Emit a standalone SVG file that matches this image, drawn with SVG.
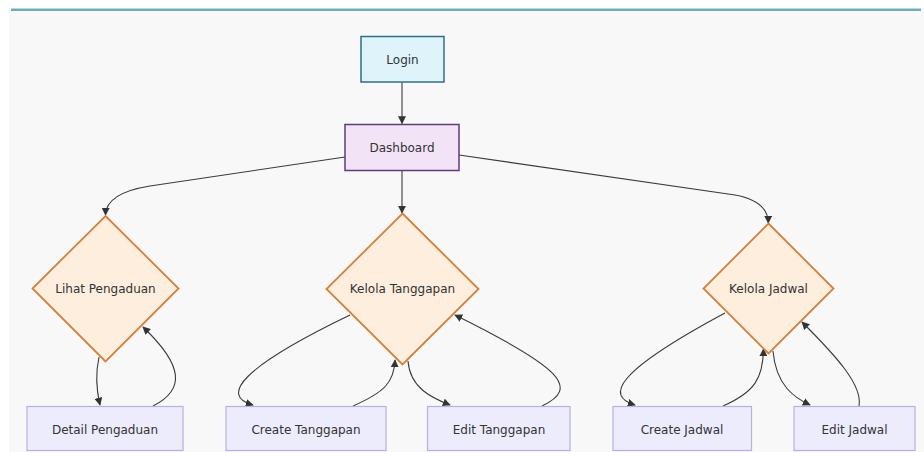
<svg xmlns="http://www.w3.org/2000/svg" width="924" height="452" viewBox="0 0 924 452">
  <defs>
    <marker id="arrow" viewBox="0 0 10 10" refX="9" refY="5" markerWidth="8" markerHeight="8" markerUnits="userSpaceOnUse" orient="auto">
      <path d="M0,0 L10,5 L0,10 z" fill="#333"/>
    </marker>
    <style>
      .label { font-family: "DejaVu Sans", Verdana, sans-serif; font-size: 12px; fill: #333; text-anchor: middle; dominant-baseline: central; }
      .start { fill: #dff3fb; stroke: #2f6f8c; stroke-width: 1.5; }
      .hub { fill: #f2e4f6; stroke: #5e3b80; stroke-width: 1.5; }
      .decision { fill: #fdeedd; stroke: #d5813a; stroke-width: 1.8; }
      .action { fill: #ececfd; stroke: #b8b0e0; stroke-width: 1.2; }
      .edge { fill: none; stroke: #3a3a3a; stroke-width: 1.1; marker-end: url(#arrow); }
    </style>
  </defs>

  <!-- canvas -->
  <rect x="0" y="0" width="924" height="452" fill="#ffffff"/>
  <rect x="9" y="8" width="915" height="444" fill="#f8f8f8"/>
  <line x1="11" y1="8.5" x2="921" y2="8.5" stroke="#9fe3ee" stroke-width="1"/>
  <line x1="11" y1="10" x2="921" y2="10" stroke="#528c9c" stroke-width="1.6"/>

  <!-- connectors -->
  <g id="connectors">
    <path class="edge" d="M402,82.5 L402,123.5"/>
    <path class="edge" d="M345,157 L150,186 Q106,193 105.5,215"/>
    <path class="edge" d="M402,171 L402,213"/>
    <path class="edge" d="M459,155 L735,195 Q768,201 768.3,223"/>
    <path class="edge" d="M99,357 Q94,380 100,405"/>
    <path class="edge" d="M153,406 C185,390 184,366 143,327"/>
    <path class="edge" d="M350,315 C240,368 220,396 253,405"/>
    <path class="edge" d="M353,406 C385,392 394,382 395,360"/>
    <path class="edge" d="M408,361 C410,388 432,398 450,405"/>
    <path class="edge" d="M542,406 C580,388 562,368 455,315"/>
    <path class="edge" d="M725,313 C615,372 605,396 635,405"/>
    <path class="edge" d="M723,406 C755,392 763,378 763.5,349"/>
    <path class="edge" d="M773,351 C776,386 795,398 810,405"/>
    <path class="edge" d="M859,406 C863,385 835,355 802,322"/>
  </g>

  <!-- nodes -->
  <g id="login">
    <rect class="start" x="361" y="36.5" width="83" height="45.5"/>
    <text class="label" x="402.5" y="59.5">Login</text>
  </g>
  <g id="dashboard">
    <rect class="hub" x="345" y="124.5" width="114" height="46"/>
    <text class="label" x="402" y="147.5">Dashboard</text>
  </g>
  <g id="lihat-pengaduan">
    <polygon class="decision" points="105.5,216 178.5,288.5 105.5,361.5 32.5,288.5"/>
    <text class="label" x="105.5" y="288.5">Lihat Pengaduan</text>
  </g>
  <g id="kelola-tanggapan">
    <polygon class="decision" points="402.5,213.5 478.5,289 402.5,364.5 326.5,289"/>
    <text class="label" x="402.5" y="289">Kelola Tanggapan</text>
  </g>
  <g id="kelola-jadwal">
    <polygon class="decision" points="768.5,223.5 833.5,288.5 768.5,353.5 703.5,288.5"/>
    <text class="label" x="768.5" y="288.5">Kelola Jadwal</text>
  </g>
  <g id="detail-pengaduan">
    <rect class="action" x="27" y="406.5" width="156" height="44"/>
    <text class="label" x="105" y="430">Detail Pengaduan</text>
  </g>
  <g id="create-tanggapan">
    <rect class="action" x="226" y="406.5" width="160" height="44"/>
    <text class="label" x="306" y="430">Create Tanggapan</text>
  </g>
  <g id="edit-tanggapan">
    <rect class="action" x="427.5" y="406.5" width="142.5" height="44"/>
    <text class="label" x="499" y="430">Edit Tanggapan</text>
  </g>
  <g id="create-jadwal">
    <rect class="action" x="613" y="406.5" width="138.5" height="44"/>
    <text class="label" x="682" y="430">Create Jadwal</text>
  </g>
  <g id="edit-jadwal">
    <rect class="action" x="794" y="406.5" width="121" height="44"/>
    <text class="label" x="854.5" y="430">Edit Jadwal</text>
  </g>
</svg>
